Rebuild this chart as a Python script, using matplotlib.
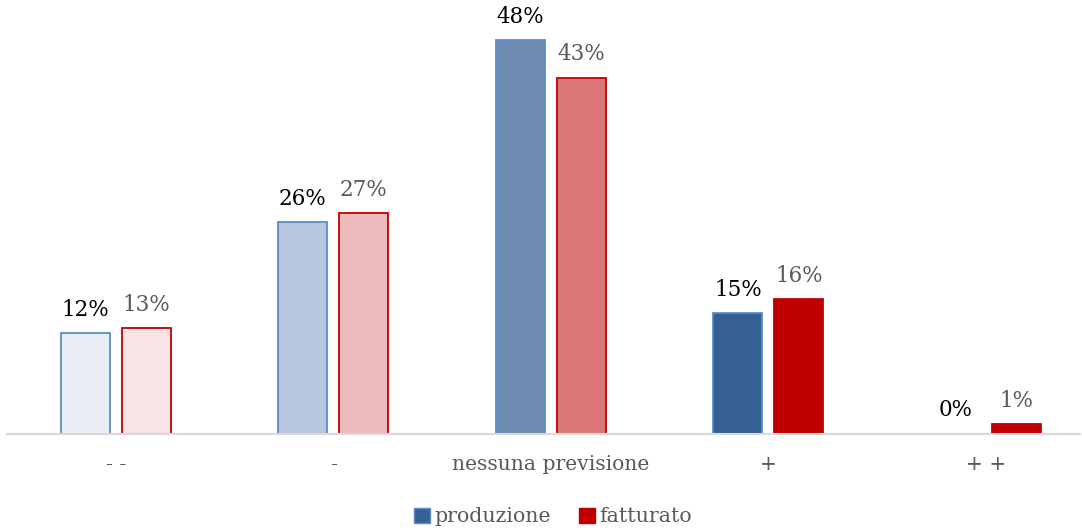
import matplotlib.pyplot as plt
import numpy as np
from matplotlib.patches import Patch

# categorie e valori (%)
categories = ['- -', '-', 'nessuna previsione', '+', '+ +']
produzione = [12.3, 25.8, 48.0, 14.7, 0.0]
fatturato = [12.9, 26.9, 43.4, 16.4, 1.2]
labels_prod = ['12%', '26%', '48%', '15%', '0%']
labels_fatt = ['13%', '27%', '43%', '16%', '1%']

# colori per categoria (chiaro -> scuro)
fill_prod = ['#E9EDF4', '#B7C6DC', '#6F8DB2', '#366092', '#366092']
fill_fatt = ['#F8E4E4', '#ECBBBB', '#DC7777', '#C00000', '#C00000']
edge_prod = '#5B8BC8'
edge_fatt = '#C00000'

plt.rcParams['font.family'] = ['DejaVu Serif']

fig = plt.figure(figsize=(10.82, 5.32), dpi=100)
ax = fig.add_axes([7 / 1082, 1 - 434 / 532, 1073 / 1082, 434 / 532])

x = np.arange(len(categories))
w = 0.225
off = 0.14

b1 = ax.bar(x - off, produzione, w, color=fill_prod, edgecolor=edge_prod, linewidth=1.3)
b2 = ax.bar(x + off, fatturato, w, color=fill_fatt, edgecolor=edge_fatt, linewidth=1.3)
# la barra 0% non ha bordo visibile
b1[4].set_linewidth(0)

for xi, v, lab in zip(x, produzione, labels_prod):
    ax.annotate(lab, (xi - off, v), xytext=(0, 9), textcoords='offset points',
                ha='center', va='bottom', fontsize=15.5, color='black')
for xi, v, lab in zip(x, fatturato, labels_fatt):
    ax.annotate(lab, (xi + off, v), xytext=(0, 9), textcoords='offset points',
                ha='center', va='bottom', fontsize=15.5, color='#595959')

ax.set_xlim(-0.5, 4.433)
ax.set_ylim(0, 52.9)
ax.set_xticks(x)
ax.set_xticklabels(categories, fontsize=14.6, color='#595959')
ax.tick_params(axis='x', length=0, pad=15)
ax.set_yticks([])
for s in ['top', 'right', 'left']:
    ax.spines[s].set_visible(False)
ax.spines['bottom'].set_color('#D9D9D9')
ax.spines['bottom'].set_linewidth(1.5)

handles = [Patch(facecolor='#366092', edgecolor=edge_prod, label='produzione'),
           Patch(facecolor='#C00000', edgecolor=edge_fatt, label='fatturato')]
leg = fig.legend(handles=handles, loc='center', bbox_to_anchor=(553 / 1082, 1 - 517 / 532),
                 ncol=2, frameon=False, fontsize=14.8, handlelength=0.75, handleheight=0.75,
                 handletextpad=0.2, columnspacing=1.4)
for t in leg.get_texts():
    t.set_color('#595959')

fig.savefig('out.png', dpi=100)
